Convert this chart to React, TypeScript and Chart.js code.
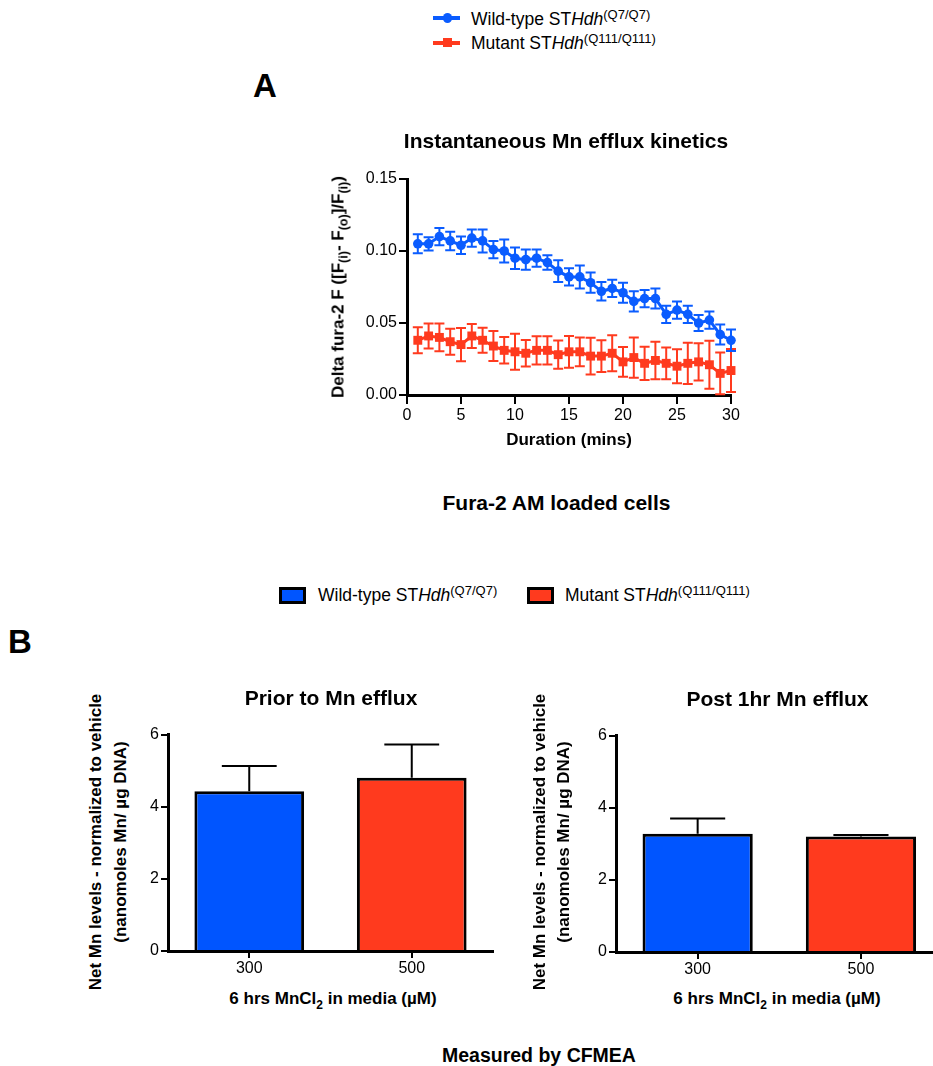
import React, { useEffect, useRef } from 'react';
import { Chart, registerables } from 'chart.js';

Chart.register(...registerables);

const FONT = '"Liberation Sans", Arial, Helvetica, sans-serif';
const BLUE = '#0a5cff';
const BLUE_BAR = '#0055ff';
const RED = '#ff3a1e';

// ---- Panel A data (minutes, mean ± SEM) ----
const minutes = [1, 2, 3, 4, 5, 6, 7, 8, 9, 10, 11, 12, 13, 14, 15, 16, 17, 18, 19, 20, 21, 22, 23, 24, 25, 26, 27, 28, 29, 30];
const wildTypeMean = [0.105, 0.105, 0.110, 0.107, 0.104, 0.109, 0.107, 0.101, 0.100, 0.095, 0.094, 0.095, 0.092, 0.086, 0.082, 0.082, 0.078, 0.072, 0.074, 0.071, 0.065, 0.067, 0.067, 0.056, 0.059, 0.056, 0.050, 0.052, 0.042, 0.038];
const wildTypeSem = [0.0066, 0.0046, 0.006, 0.0064, 0.006, 0.006, 0.008, 0.006, 0.008, 0.0075, 0.007, 0.006, 0.005, 0.0075, 0.006, 0.008, 0.007, 0.0064, 0.006, 0.007, 0.007, 0.006, 0.007, 0.006, 0.006, 0.006, 0.0055, 0.006, 0.007, 0.0075];
const mutantMean = [0.038, 0.041, 0.040, 0.037, 0.035, 0.041, 0.038, 0.034, 0.031, 0.030, 0.029, 0.031, 0.031, 0.028, 0.030, 0.030, 0.027, 0.027, 0.029, 0.023, 0.026, 0.022, 0.024, 0.022, 0.020, 0.022, 0.023, 0.021, 0.015, 0.017];
const mutantSem = [0.009, 0.0087, 0.0096, 0.009, 0.0115, 0.0083, 0.0087, 0.0104, 0.0092, 0.0125, 0.0092, 0.0098, 0.0098, 0.0098, 0.011, 0.010, 0.0127, 0.011, 0.0125, 0.0104, 0.014, 0.0115, 0.013, 0.011, 0.0118, 0.0143, 0.013, 0.0167, 0.0145, 0.015];

// ---- Panel B data ----
const barCategories = ['300', '500'];
const priorMeans = [4.43, 4.80];
const priorSem = [0.70, 0.92];
const postMeans = [3.28, 3.20];
const postSem = [0.42, 0.04];

const errorBarsPlugin = {
  id: 'errorBars',
  beforeDatasetsDraw(chart: any, _a: any, opts: any) {
    if (opts && opts.phase === 'before') drawErrors(chart, opts);
  },
  afterDatasetsDraw(chart: any, _a: any, opts: any) {
    if (opts && opts.phase === 'after') drawErrors(chart, opts);
  },
};

function drawErrors(chart: any, opts: any) {
  const ctx = chart.ctx;
  const yScale = chart.scales.y;
  chart.data.datasets.forEach((ds: any, i: number) => {
    const errs: number[] = ds.errors;
    if (!errs) return;
    const meta = chart.getDatasetMeta(i);
    ctx.save();
    ctx.strokeStyle = ds.errorColor || ds.borderColor;
    ctx.lineWidth = opts.lineWidth || 2;
    meta.data.forEach((el: any, j: number) => {
      const v = meta.controller.getParsed(j).y;
      const e = errs[j];
      const x = el.x;
      const top = yScale.getPixelForValue(v + e);
      const bottom = opts.up ? el.y : yScale.getPixelForValue(v - e);
      const half = opts.capRatio ? el.width * opts.capRatio : opts.cap;
      ctx.beginPath();
      ctx.moveTo(x, bottom);
      ctx.lineTo(x, top);
      ctx.moveTo(x - half, top);
      ctx.lineTo(x + half, top);
      if (!opts.up) {
        ctx.moveTo(x - half, bottom);
        ctx.lineTo(x + half, bottom);
      }
      ctx.stroke();
    });
    ctx.restore();
  });
}

const axisCommon = (tickLength: number, padding: number) => ({
  grid: { display: true, drawOnChartArea: false, drawTicks: true, tickLength, color: '#000', lineWidth: 2 },
  border: { display: true, color: '#000', width: 3 },
  ticks: { color: '#000', font: { family: FONT, size: 16 }, padding, maxRotation: 0 },
});

// invisible right-hand spacer axis so the full-width title stays centred on the plot
const spacerAxis = (w: number) => ({
  type: 'linear',
  position: 'right',
  display: true,
  grid: { display: false, drawTicks: false },
  border: { display: false },
  ticks: { display: false },
  afterFit: (s: any) => { s.width = w; },
});

function LineChart() {
  const ref = useRef<HTMLCanvasElement>(null);
  useEffect(() => {
    const c = new Chart(ref.current as HTMLCanvasElement, {
      type: 'line',
      data: {
        datasets: [
          {
            label: 'Mutant STHdh(Q111/Q111)',
            data: minutes.map((m, i) => ({ x: m, y: mutantMean[i] })),
            errors: mutantSem,
            borderColor: RED,
            backgroundColor: RED,
            borderWidth: 3,
            pointStyle: 'rect',
            pointRadius: 6.3,
            pointBorderWidth: 0,
            tension: 0,
            clip: false,
          } as any,
          {
            label: 'Wild-type STHdh(Q7/Q7)',
            data: minutes.map((m, i) => ({ x: m, y: wildTypeMean[i] })),
            errors: wildTypeSem,
            borderColor: BLUE,
            backgroundColor: BLUE,
            borderWidth: 3,
            pointStyle: 'circle',
            pointRadius: 4.8,
            pointBorderWidth: 0,
            tension: 0,
            clip: false,
          } as any,
        ],
      },
      options: {
        responsive: false,
        animation: false,
        layout: { padding: 0 },
        plugins: {
          legend: { display: false },
          tooltip: { enabled: false },
          title: {
            display: true,
            text: 'Instantaneous Mn efflux kinetics',
            color: '#000',
            font: { family: FONT, size: 21, weight: 'bold', lineHeight: 1.2 },
            padding: { top: 9.4, bottom: 24.4 },
          },
          errorBars: { phase: 'before', cap: 5, lineWidth: 2 },
        } as any,
        scales: {
          x: {
            type: 'linear',
            min: 0,
            max: 30,
            ...axisCommon(9, 2),
            ticks: { ...axisCommon(9, 2).ticks, stepSize: 5 },
            title: {
              display: true,
              text: 'Duration (mins)',
              color: '#000',
              font: { family: FONT, size: 17, weight: 'bold', lineHeight: 1.2 },
              padding: { top: 0, bottom: 4.8 },
            },
            afterFit: (s: any) => { s.height = 60; },
          } as any,
          y: {
            min: 0,
            max: 0.15,
            ...axisCommon(8, 2),
            ticks: { ...axisCommon(8, 2).ticks, stepSize: 0.05, callback: (v: any) => Number(v).toFixed(2) },
            afterFit: (s: any) => { s.width = 57; },
          } as any,
          ySpacer: spacerAxis(51) as any,
        },
      },
      plugins: [errorBarsPlugin as any],
    });
    return () => c.destroy();
  }, []);
  return <canvas ref={ref} width={432} height={335} style={{ position: 'absolute', left: 350, top: 120 }} />;
}

function BarChart(props: { left: number; width: number; title: string; means: number[]; sems: number[]; yWidth: number; padRight: number; padTop: number; padBottom: number; height: number }) {
  const ref = useRef<HTMLCanvasElement>(null);
  useEffect(() => {
    const c = new Chart(ref.current as HTMLCanvasElement, {
      type: 'bar',
      data: {
        labels: barCategories,
        datasets: [
          {
            data: props.means,
            errors: props.sems,
            errorColor: '#000',
            backgroundColor: [BLUE_BAR, RED],
            borderColor: '#000',
            borderWidth: 3,
            borderSkipped: 'start',
            barPercentage: 0.675,
            categoryPercentage: 1,
          } as any,
        ],
      },
      options: {
        responsive: false,
        animation: false,
        layout: { padding: 0 },
        plugins: {
          legend: { display: false },
          tooltip: { enabled: false },
          title: {
            display: true,
            text: props.title,
            color: '#000',
            font: { family: FONT, size: 21, weight: 'bold', lineHeight: 1.2 },
            padding: { top: props.padTop, bottom: props.padBottom },
          },
          errorBars: { phase: 'after', up: true, capRatio: 0.25, lineWidth: 2 },
        } as any,
        scales: {
          x: {
            ...axisCommon(7, 1),
            grid: { ...axisCommon(7, 1).grid, offset: false },
            afterFit: (s: any) => { s.height = 30; },
          } as any,
          y: {
            min: 0,
            max: 6,
            ...axisCommon(7, 2),
            ticks: { ...axisCommon(7, 2).ticks, stepSize: 2 },
            afterFit: (s: any) => { s.width = props.yWidth; },
          } as any,
          ySpacer: spacerAxis(props.padRight) as any,
        },
      },
      plugins: [errorBarsPlugin as any],
    });
    return () => c.destroy();
  }, []);
  return <canvas ref={ref} width={props.width} height={props.height} style={{ position: 'absolute', left: props.left, top: 670 }} />;
}

function Txt(props: { x: number; y: number; size: number; bold?: boolean; anchor?: 'left' | 'center'; rotate?: boolean; children: any }) {
  const { x, y, size, bold, anchor = 'center', rotate } = props;
  const transform = anchor === 'left' ? 'translateY(-50%)' : 'translate(-50%,-50%)' + (rotate ? ' rotate(-90deg)' : '');
  return (
    <div
      style={{
        position: 'absolute',
        left: x,
        top: y,
        fontSize: size,
        fontWeight: bold ? 700 : 400,
        lineHeight: 1,
        whiteSpace: 'nowrap',
        transform,
        color: '#000',
        fontFamily: FONT,
      }}
    >
      {props.children}
    </div>
  );
}

const sup = (t: string) => <span style={{ fontSize: 13, position: 'relative', top: -6 }}>{t}</span>;
const sub = (t: string, size: number, dy: number) => <span style={{ fontSize: size, position: 'relative', top: dy }}>{t}</span>;

const WT = <>Wild-type ST<i>Hdh</i>{sup('(Q7/Q7)')}</>;
const MUT = <>Mutant ST<i>Hdh</i>{sup('(Q111/Q111)')}</>;
const XTITLE = <>6 hrs MnCl{sub('2', 12, 5)} in media (µM)</>;

export default function App() {
  useEffect(() => {
    document.body.style.margin = '0';
  }, []);
  return (
    <div style={{ position: 'absolute', left: 0, top: 0, width: 933, height: 1066, overflow: 'hidden', background: '#fff', fontFamily: FONT }}>
      {/* Top legend */}
      <div style={{ position: 'absolute', left: 433, top: 16.2, width: 27, height: 3.6, background: BLUE }} />
      <div style={{ position: 'absolute', left: 442.5, top: 13.2, width: 9.6, height: 9.6, borderRadius: '50%', background: BLUE }} />
      <Txt x={471} y={19.5} size={17.5} anchor="left">{WT}</Txt>
      <div style={{ position: 'absolute', left: 433, top: 41, width: 27, height: 3.6, background: RED }} />
      <div style={{ position: 'absolute', left: 442.5, top: 38.3, width: 9, height: 9, background: RED }} />
      <Txt x={471} y={44} size={17.5} anchor="left">{MUT}</Txt>

      <Txt x={253} y={85} size={33} bold anchor="left">A</Txt>

      <LineChart />
      <Txt x={338} y={286.5} size={17} bold rotate>
        Delta fura-2 F ([F{sub('(i)', 12.5, 4)}- F{sub('(o)', 12.5, 4)}]/F{sub('(i)', 12.5, 4)})
      </Txt>

      <Txt x={556.5} y={502} size={21} bold>Fura-2 AM loaded cells</Txt>

      {/* Panel B legend */}
      <div style={{ position: 'absolute', left: 279, top: 587, width: 27, height: 17, boxSizing: 'border-box', border: '3px solid #000', background: BLUE_BAR }} />
      <Txt x={318} y={596} size={17.5} anchor="left">{WT}</Txt>
      <div style={{ position: 'absolute', left: 527, top: 587, width: 27, height: 17, boxSizing: 'border-box', border: '3px solid #000', background: RED }} />
      <Txt x={565} y={596} size={17.5} anchor="left">{MUT}</Txt>

      <Txt x={8} y={640.5} size={33} bold anchor="left">B</Txt>

      <BarChart left={130} width={402} height={311} title="Prior to Mn efflux" means={priorMeans} sems={priorSem} yWidth={38} padRight={39} padTop={16.4} padBottom={22.9} />
      <Txt x={95} y={841.7} size={17} bold rotate>Net Mn levels - normalized to vehicle</Txt>
      <Txt x={120} y={841.7} size={17} bold rotate>(nanomoles Mn/ µg DNA)</Txt>
      <Txt x={333} y={998} size={17} bold>{XTITLE}</Txt>

      <BarChart left={580} width={395} height={312} title="Post 1hr Mn efflux" means={postMeans} sems={postSem} yWidth={36} padRight={32.4} padTop={17.4} padBottom={22.9} />
      <Txt x={539} y={841.7} size={17} bold rotate>Net Mn levels - normalized to vehicle</Txt>
      <Txt x={563} y={841.7} size={17} bold rotate>(nanomoles Mn/ µg DNA)</Txt>
      <Txt x={777} y={998} size={17} bold>{XTITLE}</Txt>

      <Txt x={442} y={1055.5} size={19.5} bold anchor="left">Measured by CFMEA</Txt>
    </div>
  );
}
